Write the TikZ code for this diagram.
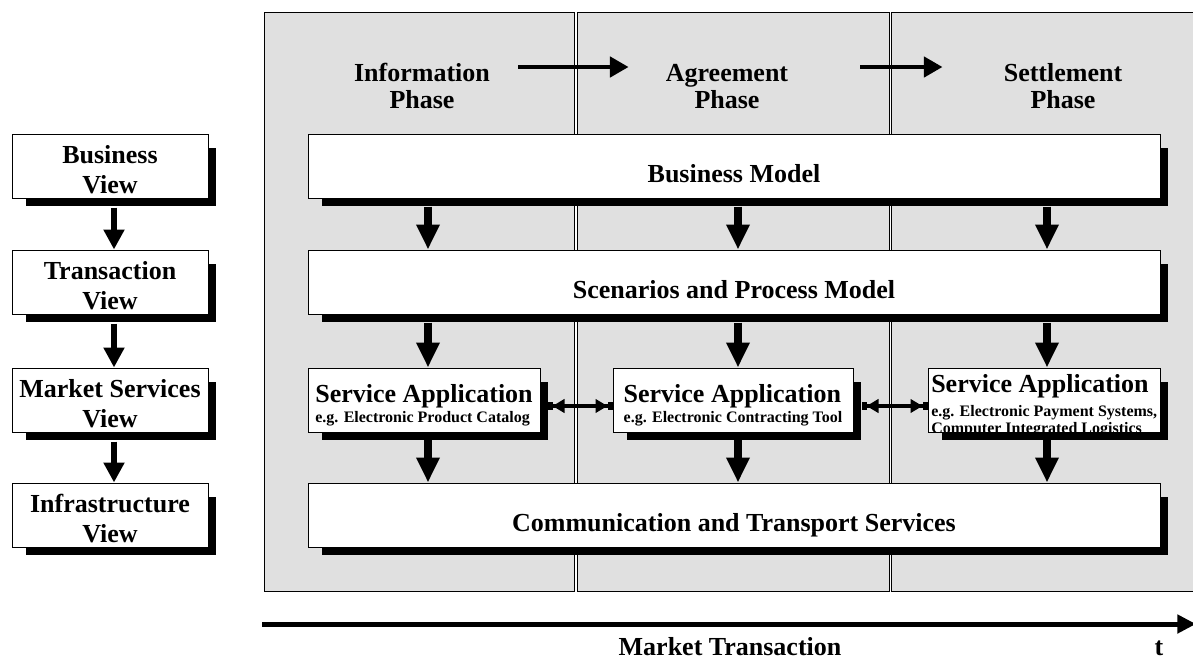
\documentclass[tikz,border=0pt]{standalone}
\usepackage{fontspec}
\setmainfont{Liberation Serif}
\usetikzlibrary{arrows.meta,backgrounds,calc}
\definecolor{panelgray}{RGB}{224,224,224}
\newcommand{\bigfont}{\fontsize{19.5}{22.5}\selectfont\bfseries}
\newcommand{\phasefont}{\fontsize{19.5}{20.25}\selectfont\bfseries}
\newcommand{\smallfont}{\fontsize{12}{15}\selectfont\bfseries}
\newcommand{\tightfont}{\fontsize{12}{13}\selectfont\bfseries}
\newcommand{\boxshadow}[1]{\fill ([shift={(14,14)}]#1.north west) rectangle ([shift={(7,7)}]#1.south east);}
\tikzset{
	box/.style={draw,fill=white,line width=0.75pt,inner sep=0pt,minimum height=48pt,font=\bigfont},
	viewbox/.style={box,minimum width=147pt,align=center,text height=40.5pt,text depth=0pt},
	modelbox/.style={box,minimum width=639pt,text height=24pt,text depth=0pt},
	appbox/.style={box,align=left,font=\smallfont,text height=35.6pt,text depth=2.6pt},
	panel/.style={draw,fill=panelgray,line width=0.75pt},
	phase/.style={inner sep=0pt,align=center,font=\phasefont,text depth=0pt},
	varrow/.style={line width=6pt,-{Triangle[length=18.75pt,width=16.5pt]}},
	viewarrow/.style={line width=4.5pt,-{Triangle[length=15pt,width=15pt]}},
	harrow/.style={line width=3.4pt,-{Triangle[length=14pt,width=15pt]}},
	darrow/.style={line width=3pt,{Rectangle[length=3.75pt,width=6pt]Triangle[length=9pt,width=10pt]}-{Triangle[length=9pt,width=10pt]Rectangle[length=3.75pt,width=6pt]}},
	tarrow/.style={line width=3.75pt,-{Triangle[length=14pt,width=13.5pt]}}
}
\begin{document}
\begin{tikzpicture}[x=0.75pt,y=-0.75pt]
	\useasboundingbox (0,0) rectangle (1193,661);
	\begin{scope}[on background layer]
		\draw[panel] (264,12) rectangle (574,591);
		\draw[panel] (577,12) rectangle (889,591);
		\draw[panel] (891,12) rectangle (1200,591);
	\end{scope}
	\coordinate (vx) at (114,0);
	\coordinate (c1) at (428,0);
	\coordinate (c2) at (738,0);
	\coordinate (c3) at (1047,0);
	% views
	\node[viewbox] (bv) at (110,166) {Business\\View};
	\node[viewbox] (tv) at (110,282) {Transaction\\View};
	\node[viewbox] (mv) at (110,400) {Market Services\\View};
	\node[viewbox] (iv) at (110,515) {Infrastructure\\View};
	% phases
	\node[phase] (ip) at (422,86) {Information\\Phase};
	\node[phase] (ap) at (727,86) {Agreement\\Phase};
	\node[phase] (sp) at (1063,86) {Settlement\\Phase};
	% models
	\node[modelbox] (bm) at (734,166) {Business Model};
	\node[modelbox] (sm) at (734,282) {Scenarios and Process Model};
	\node[appbox,minimum width=174pt] (sa1) at (424,400) {{\bigfont Service Application}\\e.g. Electronic Product Catalog};
	\node[appbox,minimum width=180pt] (sa2) at (733,400) {{\bigfont Service Application}\\e.g. Electronic Contracting Tool};
	\node[box,minimum width=174pt] (sa3) at (1044,400) {};
	\begin{scope}
		\clip (sa3.north west) rectangle (sa3.south east);
		\node[inner sep=0pt,anchor=north west,align=left,font=\tightfont] (sa3txt) at (931,374) {{\bigfont Service Application}\\[5pt]e.g. Electronic Payment Systems,\\Computer Integrated Logistics};
	\end{scope}
	\node[modelbox] (cm) at (734,515) {Communication and Transport Services};
	\begin{scope}[on background layer]
		\boxshadow{bv} \boxshadow{tv} \boxshadow{mv} \boxshadow{iv}
		\boxshadow{bm} \boxshadow{sm} \boxshadow{cm}
		\boxshadow{sa1} \boxshadow{sa2} \boxshadow{sa3}
	\end{scope}
	% arrows
	\draw[viewarrow] ($(vx |- bv.south)+(0,9)$) -- (vx |- tv.north);
	\draw[viewarrow] ($(vx |- tv.south)+(0,9)$) -- (vx |- mv.north);
	\draw[viewarrow] ($(vx |- mv.south)+(0,9)$) -- (vx |- iv.north);
	\draw[harrow] ([shift={(28,-19)}]ip.east) -- ([shift={(-37,-19)}]ap.west);
	\draw[harrow] ([shift={(72,-19)}]ap.east) -- ([shift={(-61,-19)}]sp.west);
	\foreach \c in {c1,c2,c3} {
		\draw[varrow] ($(\c |- bm.south)+(0,8)$) -- (\c |- sm.north);
		\draw[varrow] ($(\c |- cm.north)+(0,-43)$) -- (\c |- cm.north);
	}
	\draw[varrow] ($(c1 |- sm.south)+(0,8)$) -- (c1 |- sa1.north);
	\draw[varrow] ($(c2 |- sm.south)+(0,8)$) -- (c2 |- sa2.north);
	\draw[varrow] ($(c3 |- sm.south)+(0,8)$) -- (c3 |- sa3.north);
	\draw[darrow] ($(sa1.east)+(7,6)$) -- ($(sa2.west)+(0,6)$);
	\draw[darrow] ($(sa2.east)+(8,6)$) -- ($(sa3.west)+(0,6)$);
	% time axis
	\coordinate (tstart) at (262,624);
	\coordinate (tend) at (1196,624);
	\draw[tarrow] (tstart) -- (tend);
	\node[inner sep=0pt,anchor=base,font=\bigfont] (mt) at (730,655) {Market Transaction};
	\node[inner sep=0pt,anchor=base,font=\bigfont] (t) at (1159,655) {t};
\end{tikzpicture}
\end{document}
